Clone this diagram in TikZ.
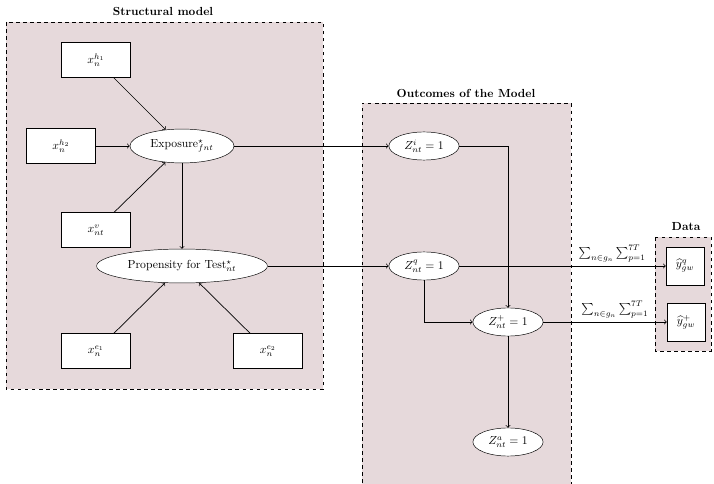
\documentclass[tikz,border=0pt]{standalone}
\usepackage{amsmath}
\usetikzlibrary{shapes.geometric,arrows}
\definecolor{panel}{RGB}{230,217,219}
\tikzset{
  varbox/.style={draw, fill=white, rectangle, minimum width=59pt, minimum height=30pt, inner sep=1pt},
  latent/.style={draw, fill=white, ellipse, minimum height=29pt, inner sep=1pt},
  outcome/.style={draw, fill=white, ellipse, minimum width=60pt, minimum height=24pt, inner sep=1pt},
  databox/.style={draw, fill=white, rectangle, minimum width=32.5pt, minimum height=32.5pt, inner sep=1pt},
  panelbox/.style={fill=panel, draw, dashed, line width=0.6pt},
  link/.style={->, line width=0.6pt},
  paneltitle/.style={font=\bfseries}
}
\begin{document}
\begin{tikzpicture}[x=0.855pt, y=-0.855pt]
\useasboundingbox (0,0) rectangle (714,484);

% panels
\path[panelbox] (6,22) rectangle (323,389);
\fill[panel] (362,103) rectangle (571,490);
\draw[dashed, line width=0.6pt] (362,490) -- (362,103) -- (571,103) -- (571,490);
\path[panelbox] (655,237) rectangle (711,351);

\node[paneltitle] (t1) at (163,11) {Structural model};
\node[paneltitle] (t2) at (466,93) {Outcomes of the Model};
\node[paneltitle] (t3) at (686,227) {Data};

% structural model
\node[varbox] (h1) at (96,60) {$x_n^{h_1}$};
\node[varbox] (h2) at (61,146) {$x_n^{h_2}$};
\node[latent, minimum width=89pt] (exp) at (182,146) {Exposure$^\star_{fnt}$};
\node[varbox] (v) at (96,230) {$x_{nt}^{v}$};
\node[latent, minimum width=146pt] (prop) at (182,266) {Propensity for Test$^\star_{nt}$};
\node[varbox] (e1) at (96,351) {$x_n^{e_1}$};
\node[varbox] (e2) at (268,351) {$x_n^{e_2}$};

% outcomes
\node[outcome] (zi) at (424,146) {$Z^{i}_{nt}=1$};
\node[outcome] (zq) at (424,266) {$Z^{q}_{nt}=1$};
\node[outcome] (zp) at (508,322) {$Z^{+}_{nt}=1$};
\node[outcome] (za) at (508,442) {$Z^{a}_{nt}=1$};

% data
\node[databox] (yq) at (685,266) {$\widehat{y}^{q}_{gw}$};
\node[databox] (yp) at (686,322) {$\widehat{y}^{+}_{gw}$};

% connectors
\draw[link] (h1) -- (exp);
\draw[link] (h2) -- (exp);
\draw[link] (v) -- (exp);
\draw[link] (exp) -- (prop);
\draw[link] (e1) -- (prop);
\draw[link] (e2) -- (prop);
\draw[link] (exp) -- (zi);
\draw[link] (prop) -- (zq);
\draw[link] (zi.east) -| (zp.north);
\draw[link] (zq.south) |- (zp.west);
\draw[link] (zp) -- (za);
\draw[link] (zq) -- node[above, pos=0.74] {$\sum_{n\in g_n}\sum_{p=1}^{7T}$} (yq);
\draw[link] (zp) -- node[above, pos=0.58] {$\sum_{n\in g_n}\sum_{p=1}^{7T}$} (yp);
\end{tikzpicture}
\end{document}
